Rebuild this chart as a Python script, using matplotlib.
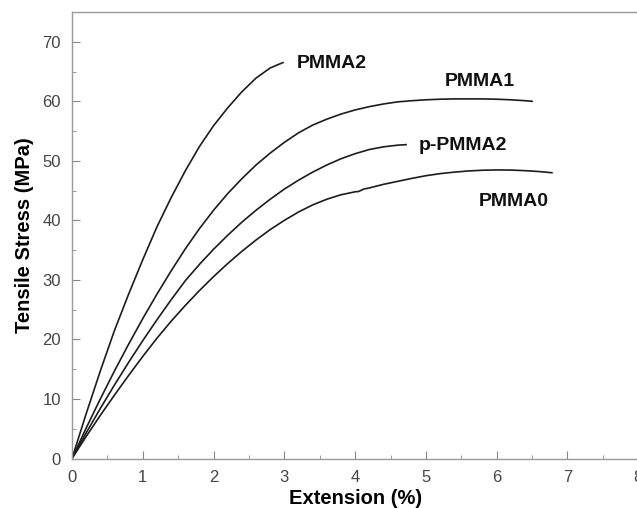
import matplotlib
matplotlib.use("Agg")
import matplotlib.pyplot as plt
from matplotlib.ticker import MultipleLocator

plt.rcParams['font.family'] = ['Liberation Sans', 'DejaVu Sans']

# Stress-strain curves: extension (%) vs tensile stress (MPa)
pmma2_x = [0, 0.2, 0.4, 0.6, 0.8, 1.0, 1.2, 1.4, 1.6, 1.8, 2.0, 2.2, 2.4, 2.6,
           2.8, 2.96, 2.98]
pmma2_y = [0, 7.5, 14.7, 21.5, 27.6, 33.4, 38.9, 43.8, 48.3, 52.4, 55.9, 58.9,
           61.6, 63.9, 65.6, 66.4, 66.5]

pmma1_x = [0, 0.2, 0.4, 0.6, 0.8, 1.0, 1.2, 1.4, 1.6, 1.8, 2.0, 2.2, 2.4, 2.6,
           2.8, 3.0, 3.2, 3.4, 3.6, 3.8, 4.0, 4.2, 4.4, 4.6, 4.8, 5.0, 5.2, 5.4,
           5.6, 5.8, 6.0, 6.2, 6.4, 6.5]
pmma1_y = [0, 5.1, 10.0, 14.7, 19.2, 23.5, 27.6, 31.5, 35.2, 38.6, 41.7, 44.5,
           47.0, 49.3, 51.3, 53.1, 54.7, 56.0, 57.0, 57.85, 58.55, 59.1, 59.55,
           59.9, 60.1, 60.25, 60.35, 60.4, 60.4, 60.4, 60.35, 60.25, 60.1, 60.0]

ppmma2_x = [0, 0.2, 0.4, 0.6, 0.8, 1.0, 1.2, 1.4, 1.6, 1.8, 2.0, 2.2, 2.4, 2.6,
            2.8, 3.0, 3.2, 3.4, 3.6, 3.8, 4.0, 4.2, 4.4, 4.6, 4.72]
ppmma2_y = [0, 4.3, 8.4, 12.35, 16.15, 19.8, 23.3, 26.65, 29.85, 32.6, 35.15,
            37.5, 39.7, 41.7, 43.55, 45.25, 46.75, 48.1, 49.3, 50.35, 51.2, 51.9,
            52.35, 52.63, 52.72]

pmma0_x = [0, 0.2, 0.4, 0.6, 0.8, 1.0, 1.2, 1.4, 1.6, 1.8, 2.0, 2.2, 2.4, 2.6,
           2.8, 3.0, 3.2, 3.4, 3.6, 3.8, 4.0, 4.05, 4.12, 4.2, 4.4, 4.6, 4.8,
           5.0, 5.2, 5.4, 5.6, 5.8, 6.0, 6.2, 6.4, 6.6, 6.78]
pmma0_y = [0, 3.7, 7.25, 10.65, 13.95, 17.15, 20.2, 23.05, 25.7, 28.2, 30.55,
           32.75, 34.8, 36.7, 38.45, 40.0, 41.4, 42.6, 43.55, 44.3, 44.8, 44.85,
           45.25, 45.45, 46.05, 46.55, 47.05, 47.5, 47.85, 48.1, 48.3, 48.42,
           48.47, 48.45, 48.35, 48.2, 48.0]

# curve labels: text, x, y
labels = ['PMMA2', 'PMMA1', 'p-PMMA2', 'PMMA0']
label_x = [3.17, 5.27, 4.90, 5.75]
label_y = [66.4, 63.4, 52.5, 43.2]

fig = plt.figure(figsize=(6.37, 5.08), dpi=100)
ax = fig.add_axes([0.113, 0.0974, 0.889, 0.879])

line_color = '#1c1c1c'
for xs, ys in [(pmma2_x, pmma2_y), (pmma1_x, pmma1_y),
               (ppmma2_x, ppmma2_y), (pmma0_x, pmma0_y)]:
    ax.plot(xs, ys, color=line_color, lw=1.2)

for t, x, y in zip(labels, label_x, label_y):
    ax.text(x, y, t, fontsize=14, fontweight='bold', ha='left', va='center',
            color='#111111')

ax.set_xlim(0, 8)
ax.set_ylim(0, 75)
ax.xaxis.set_major_locator(MultipleLocator(1))
ax.xaxis.set_minor_locator(MultipleLocator(0.5))
ax.yaxis.set_major_locator(MultipleLocator(10))
ax.yaxis.set_minor_locator(MultipleLocator(5))
ax.tick_params(which='both', direction='in', color='#888888', labelcolor='#444444')
ax.tick_params(which='major', length=6, labelsize=12, pad=8)
ax.tick_params(which='minor', length=3)
for s in ax.spines.values():
    s.set_color('#999999')
    s.set_linewidth(1.0)

ax.set_xlabel('Extension (%)', fontsize=14.5, fontweight='bold', labelpad=3)
ax.set_ylabel('Tensile Stress (MPa)', fontsize=14.5, fontweight='bold', labelpad=6)

fig.savefig('out.png', dpi=100)
